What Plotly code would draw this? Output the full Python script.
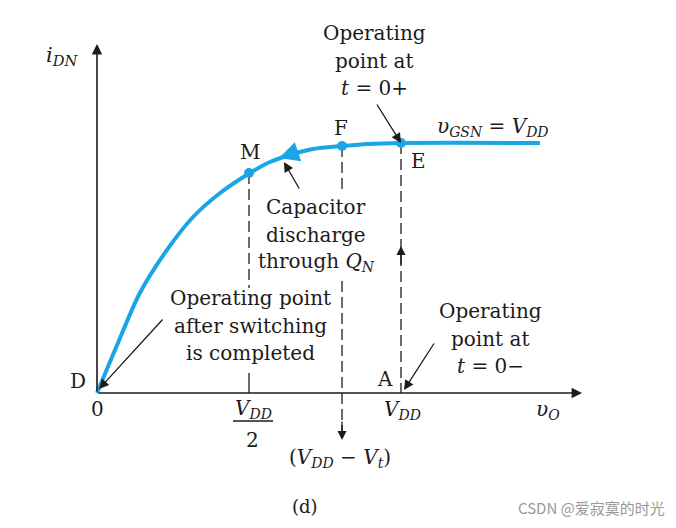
import plotly.graph_objects as go

# ---- data (normalised units: V_DD = 1, saturation current = 1) ----
VDD = 1.0
VT = 0.194
v_curve = [0, 0.069, 0.141, 0.230, 0.316, 0.405, 0.503, 0.569, 0.645, 0.711, 0.809, 0.891, 1.0, 1.457]
i_curve = [0, 0.2, 0.4, 0.572, 0.704, 0.80, 0.88, 0.924, 0.956, 0.976, 0.988, 0.996, 1.0, 1.0]
pt_names = ["M", "F", "E"]
pt_v = [0.5, 0.806, 1.0]
pt_i = [0.88, 0.988, 1.0]

# pixel -> data helpers for layout placement
SX, SY = 304.0, 250.0
OX, OY = 97.0, 393.0
def X(px):
    return (px - OX) / SX
def Y(py):
    return (OY - py) / SY

BLUE = "#1aa6e6"
INK = "#1e1a1a"
SERIF = '"DejaVu Serif", "Liberation Serif", serif'
FS = 20
PAD = 8  # page body margin

fig = go.Figure()

DASH = "11px,5px"
def vseg(x, y0, y1, dash=DASH):
    fig.add_trace(go.Scatter(x=[x, x], y=[y0, y1], mode="lines",
                             line=dict(color=INK, width=1.3, dash=dash), hoverinfo="skip"))

# dashed guide lines (broken where the text blocks sit)
vseg(pt_v[0], pt_i[0], Y(288))
vseg(pt_v[0], Y(373), 0, dash="solid")
vseg(VDD - VT, pt_i[1], Y(190))
vseg(VDD - VT, Y(281), Y(436))
vseg(VDD, pt_i[2], 0)

# characteristic curve
fig.add_trace(go.Scatter(x=v_curve, y=i_curve, mode="lines",
                         line=dict(color=BLUE, width=4, shape="spline", smoothing=0.9),
                         hoverinfo="skip"))
fig.add_trace(go.Scatter(x=pt_v, y=pt_i, mode="markers",
                         marker=dict(color=BLUE, size=10), hoverinfo="skip"))

anns = []
def arrow(tx, ty, sx, sy, color=INK, width=1.3, head=2, size=1.5):
    anns.append(dict(x=tx, y=ty, ax=sx, ay=sy, xref="x", yref="y", axref="x", ayref="y",
                     showarrow=True, arrowhead=head, arrowsize=size, arrowwidth=width,
                     arrowcolor=color, text=""))
def label(x, y, text, size=FS, xa="center", ya="middle", font=SERIF, color=INK):
    anns.append(dict(x=x, y=y, xref="x", yref="y", text=text, showarrow=False,
                     xanchor=xa, yanchor=ya, font=dict(family=font, size=size, color=color)))
def block(xc, ytop, lines, gap=27.5):
    for k, t in enumerate(lines):
        label(X(xc), Y(ytop + k * gap), t)

# axes with arrow heads
arrow(X(97), Y(44), X(97), 0, width=1.6, size=1.3)
arrow(X(582), 0, X(97), 0, width=1.6, size=1.3)

# annotation arrows
arrow(VDD, pt_i[2], X(376), Y(103))
arrow(X(284), Y(162), X(300), Y(190))
arrow(X(99), Y(389), X(164), Y(318))
arrow(X(404), Y(390), X(435), Y(342))
arrow(VDD, Y(246), VDD, Y(266), size=1.4)
arrow(VDD - VT, Y(440), VDD - VT, Y(420), size=1.4)
# direction arrow on the curve
arrow(X(279), Y(158), X(300), Y(151), color=BLUE, width=2.5, size=1.6)

# labels
label(X(62), Y(56), "<i>i</i><sub><i>DN</i></sub>", size=21)
block(374, 33, ["Operating", "point at", "<i>t</i> = 0+"])
label(X(341), Y(128), "F")
label(X(250), Y(152), "M")
label(X(418), Y(161), "E")
label(X(493), Y(127), "<i>υ</i><sub><i>GSN</i></sub> = <i>V</i><sub><i>DD</i></sub>")
block(316, 207, ["Capacitor", "discharge", "through <i>Q</i><sub><i>N</i></sub>"])
block(250, 298, ["Operating point", "after switching", "is completed"])
block(490, 311, ["Operating", "point at", "<i>t</i> = 0−"])
label(X(78), Y(381), "D")
label(X(385), Y(379), "A")
label(X(97), Y(409), "0")
label(X(253), Y(409), "<i>V</i><sub><i>DD</i></sub>")
label(X(252), Y(440), "2")
label(X(402), Y(410), "<i>V</i><sub><i>DD</i></sub>")
label(X(548), Y(410), "<i>υ</i><sub><i>O</i></sub>")
label(X(340), Y(458), "(<i>V</i><sub><i>DD</i></sub> − <i>V<sub>t</sub></i>)")
label(X(305), Y(506), "(d)", size=18)
label(X(591), Y(507), "CSDN @爱寂寞的时光", size=15, font="Noto Sans CJK SC", color="#999999")

fig.add_shape(type="line", x0=X(233), x1=X(273), y0=Y(421), y1=Y(421),
              line=dict(color=INK, width=1.3))

W, H = 676, 528
fig.update_layout(
    width=W - 2 * PAD, height=H - 2 * PAD,
    margin=dict(l=0, r=0, t=0, b=0),
    paper_bgcolor="white", plot_bgcolor="white",
    showlegend=False,
    annotations=anns,
    xaxis=dict(range=[X(PAD), X(W - PAD)], visible=False, fixedrange=True),
    yaxis=dict(range=[Y(H - PAD), Y(PAD)], visible=False, fixedrange=True),
)

fig.write_html("out.html")
